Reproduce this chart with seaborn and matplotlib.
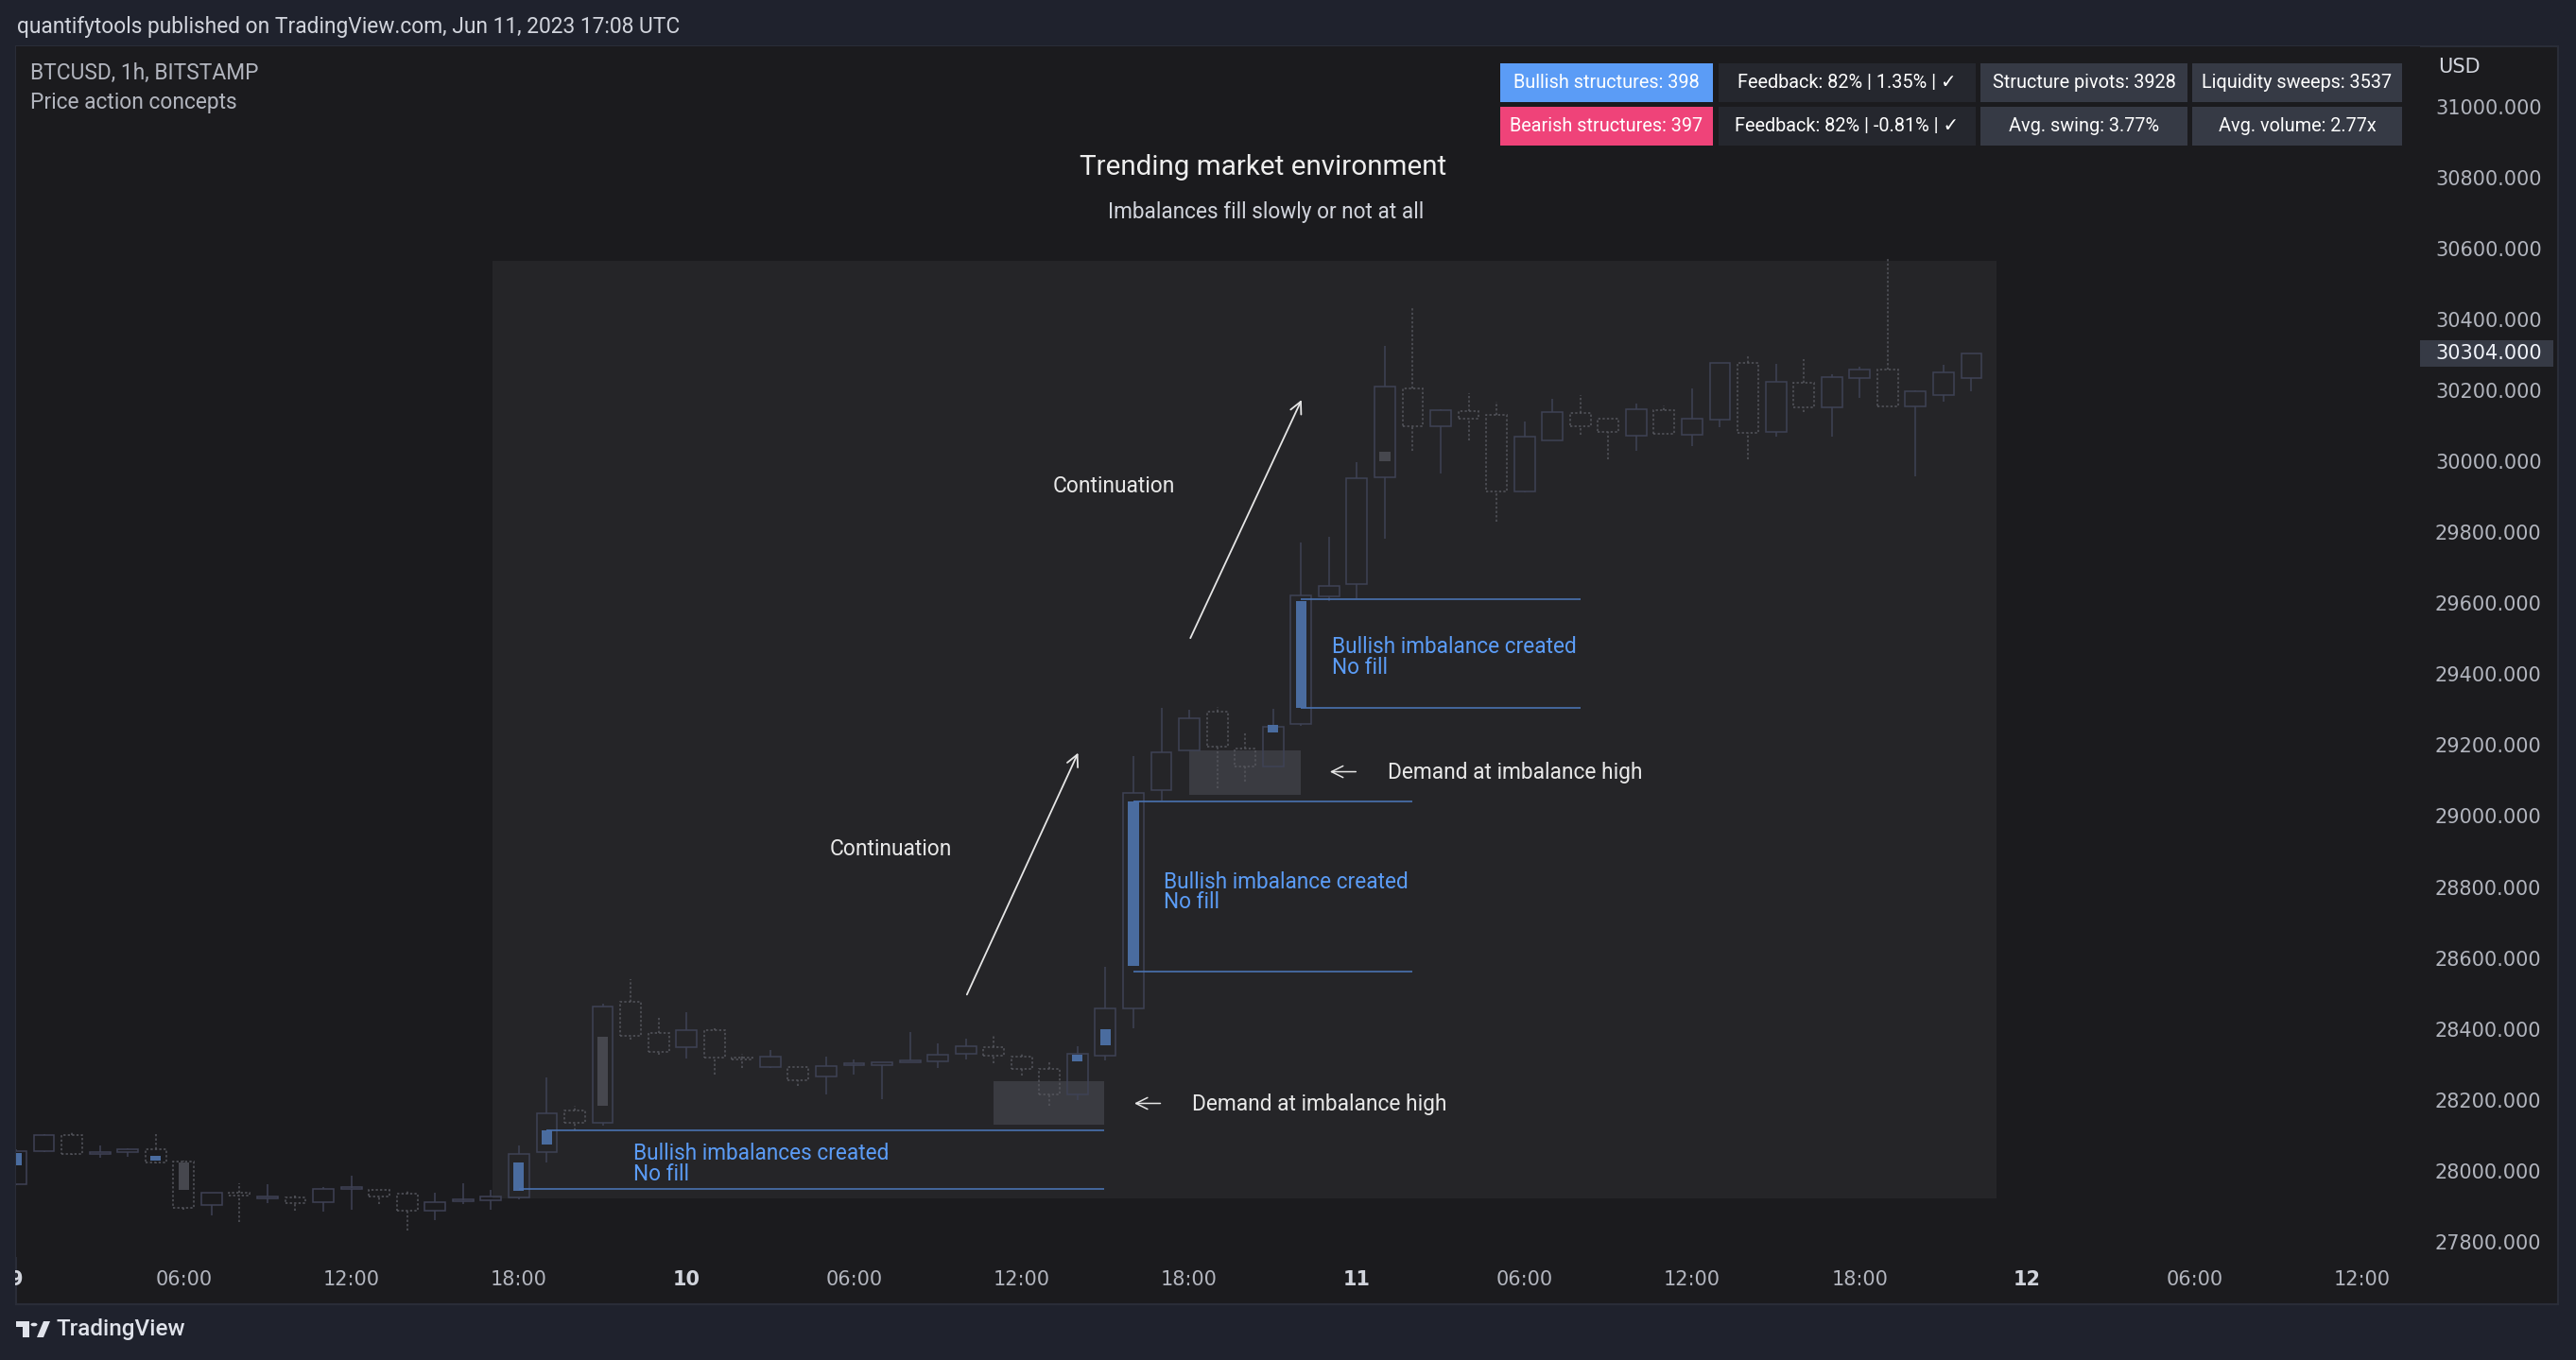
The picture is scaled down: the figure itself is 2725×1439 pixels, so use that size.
import matplotlib
matplotlib.use('Agg')
import numpy as np
import pandas as pd
import matplotlib.pyplot as plt
import seaborn as sns
from matplotlib.patches import Rectangle, Polygon, Circle
from matplotlib.transforms import blended_transform_factory

# BTCUSD 1h candles, hour 0 = 9 Jun 2023 00:00 UTC
hours = np.arange(71)
opens = [27962, 28056, 28102, 28048, 28053, 28062, 28027, 27904, 27938, 27922,
         27925, 27912, 27948, 27946, 27936, 27888, 27915, 27917, 27925, 28053,
         28170, 28135, 28477, 28389, 28348, 28397, 28317, 28293, 28293, 28266,
         28297, 28298, 28306, 28309, 28330, 28349, 28322, 28288, 28215, 28325,
         28457, 29074, 29184, 29294, 29190, 29141, 29260, 29620, 29655, 29955,
         30205, 30098, 30141, 30131, 29915, 30060, 30136, 30120, 30072, 30144,
         30074, 30117, 30277, 30083, 30221, 30151, 30234, 30258, 30154, 30188,
         30236]
highs = [28060, 28104, 28109, 28071, 28063, 28104, 28029, 27939, 27964, 27961,
         27931, 27953, 27987, 27946, 27945, 27937, 27966, 27945, 28072, 28264,
         28182, 28470, 28540, 28435, 28446, 28402, 28329, 28341, 28293, 28322,
         28313, 28306, 28392, 28360, 28373, 28382, 28331, 28307, 28351, 28574,
         29169, 29304, 29300, 29307, 29235, 29303, 29772, 29787, 29997, 30326,
         30435, 30148, 30193, 30169, 30113, 30177, 30187, 30120, 30163, 30158,
         30206, 30277, 30299, 30275, 30289, 30246, 30268, 30574, 30201, 30271,
         30304]
lows = [27960, 28054, 28045, 28038, 28040, 28022, 27890, 27874, 27855, 27909,
        27887, 27885, 27891, 27906, 27831, 27860, 27905, 27891, 27920, 28024,
        28115, 28128, 28370, 28326, 28316, 28270, 28291, 28291, 28238, 28215,
        28270, 28202, 28306, 28291, 28313, 28304, 28269, 28183, 28200, 28310,
        28401, 29045, 29184, 29078, 29098, 29141, 29255, 29607, 29615, 29781,
        30031, 29965, 30060, 29829, 29912, 30060, 30074, 30005, 30031, 30077,
        30042, 30095, 30007, 30069, 30139, 30069, 30179, 30154, 29958, 30167,
        30197]
closes = [28056, 28102, 28047, 28052, 28062, 28024, 27895, 27938, 27930, 27928,
          27909, 27949, 27952, 27928, 27888, 27912, 27918, 27928, 28048, 28162,
          28135, 28463, 28381, 28335, 28397, 28319, 28313, 28322, 28255, 28295,
          28303, 28306, 28312, 28328, 28352, 28325, 28287, 28215, 28330, 28458,
          29065, 29180, 29275, 29195, 29141, 29251, 29621, 29648, 29953, 30210,
          30098, 30145, 30119, 29915, 30069, 30139, 30098, 30084, 30147, 30077,
          30120, 30277, 30079, 30224, 30151, 30237, 30258, 30154, 30197, 30250,
          30304]

# imbalance markers inside candles
mark_hours = [0, 5, 6, 18, 19, 21, 38, 39, 40, 45, 46, 49]
mark_top = [28051, 28042, 28024, 28024, 28113, 28378, 28326, 28399, 29041, 29256, 29605, 30028]
mark_bottom = [28016, 28029, 27945, 27944, 28075, 28183, 28309, 28353, 28577, 29237, 29305, 30000]
mark_kind = ['bull', 'bull', 'gray', 'bull', 'bull', 'gray', 'bull', 'bull', 'bull', 'bull', 'bull', 'gray']

# bullish imbalance levels
imb_top = [28115, 29042, 29611]
imb_bottom = [27949, 28561, 29305]
imb_top_start = [19, 40, 46]
imb_bottom_start = [18, 40, 46]
imb_end = [38.96, 50.0, 56.0]
imb_labels = ['Bullish imbalances created\nNo fill', 'Bullish imbalance created\nNo fill',
              'Bullish imbalance created\nNo fill']

# demand zones
dz_start = [35.0, 42.0]
dz_end = [38.96, 46.0]
dz_top = [28252, 29185]
dz_bottom = [28129, 29060]

# shaded study window
win_start, win_end = 17.05, 70.9
win_low, win_high = 27921, 30566

tick_hours = list(range(0, 85, 6))
tick_labels = ['9', '06:00', '12:00', '18:00', '10', '06:00', '12:00', '18:00',
               '11', '06:00', '12:00', '18:00', '12', '06:00', '12:00']
price_ticks = list(range(27800, 31001, 200))

table_rows = [
    ['Bullish structures: 398', 'Feedback: 82% | 1.35% | ✓', 'Structure pivots: 3928', 'Liquidity sweeps: 3537'],
    ['Bearish structures: 397', 'Feedback: 82% | -0.81% | ✓', 'Avg. swing: 3.77%', 'Avg. volume: 2.77x'],
]

OUTER = '#1f222d'
PANEL = '#1b1b1e'
SHADE = '#252528'
TXT = '#d1d4dc'
AXTXT = '#b2b5be'
BLUE = '#5b9cf6'
LINEBLUE = '#4a72b0'

W, H = 2725, 1439

sns.set_theme(style='dark', rc={'figure.facecolor': OUTER, 'axes.facecolor': PANEL,
                                'savefig.facecolor': OUTER})
plt.rcParams['font.family'] = ['Roboto', 'DejaVu Sans']

fig = plt.figure(figsize=(W / 100, H / 100), dpi=100)


def fx(x):
    return x / W


def fy(y):
    return 1 - y / H


# chart panel
fig.add_artist(Rectangle((fx(17), fy(1380)), fx(2706 - 17), (1380 - 49) / H,
                         transform=fig.transFigure, fc=PANEL, ec='#2a2d38', lw=1.5, zorder=0))

ax = fig.add_axes([fx(17), fy(1330), fx(2560 - 17), (1330 - 49) / H])
ax.set_facecolor(PANEL)
ax.set_xlim(0, 86.06)
ax.set_ylim(27757, 31170)
sns.despine(ax=ax, left=True, bottom=True, right=True, top=True)
ax.grid(False)

df = pd.DataFrame({'hour': hours, 'open': opens, 'high': highs, 'low': lows, 'close': closes})

ax.add_patch(Rectangle((win_start, win_low), win_end - win_start, win_high - win_low,
                       fc=SHADE, ec='none', zorder=1))

for s, e, t, b in zip(dz_start, dz_end, dz_top, dz_bottom):
    ax.add_patch(Rectangle((s, b), e - s, t - b, fc='#3a3b41', ec='none', zorder=2))

bw = 0.74
for r in df.itertuples():
    bull = r.close >= r.open
    col = '#3f4255' if bull else '#55565d'
    ls = '-' if bull else (0, (1.5, 1.5))
    top, bot = max(r.open, r.close), min(r.open, r.close)
    ax.vlines(r.hour, top, r.high, color=col, lw=1.1, ls=ls, zorder=3)
    ax.vlines(r.hour, r.low, bot, color=col, lw=1.1, ls=ls, zorder=3)
    ax.add_patch(Rectangle((r.hour - bw / 2, bot), bw, max(top - bot, 5),
                           fill=False, ec=col, lw=1.1, ls=ls, zorder=3))

for h, t, b, k in zip(mark_hours, mark_top, mark_bottom, mark_kind):
    c = '#4a6c9f' if k == 'bull' else '#46474e'
    ax.add_patch(Rectangle((h - 0.19, b), 0.38, t - b, fc=c, ec='none', zorder=4))

for i in range(len(imb_top)):
    ax.hlines(imb_top[i], imb_top_start[i], imb_end[i], color=LINEBLUE, lw=1.2, zorder=4)
    ax.hlines(imb_bottom[i], imb_bottom_start[i], imb_end[i], color=LINEBLUE, lw=1.2, zorder=4)

# annotations
lab_kw = dict(color=BLUE, fontsize=16.3, va='center', linespacing=0.92, zorder=5)
ax.text(22.1, 28020, imb_labels[0], **lab_kw)
ax.text(41.1, 28785, imb_labels[1], **lab_kw)
ax.text(47.1, 29447, imb_labels[2], **lab_kw)

ax.text(44.65, 30830, 'Trending market environment', color='#eeeeee', fontsize=21.3, ha='center', va='center')
ax.text(44.76, 30702, 'Imbalances fill slowly or not at all', color=TXT, fontsize=16.3, ha='center', va='center')

note = dict(color='#e8e8e8', fontsize=16.4, va='center')
ax.text(31.3, 28907, 'Continuation', ha='center', **note)
ax.text(39.3, 29930, 'Continuation', ha='center', **note)
ax.text(49.1, 29122, 'Demand at imbalance high', **note)
ax.text(42.1, 28187, 'Demand at imbalance high', **note)

arrow = dict(arrowstyle='->', color='#e6e6e6', lw=1.3, mutation_scale=22)
ax.annotate('', xy=(38.06, 29185), xytext=(34.0, 28490), arrowprops=arrow)
ax.annotate('', xy=(46.06, 30180), xytext=(42.0, 29495), arrowprops=arrow)
small = dict(arrowstyle='->', color='#e6e6e6', lw=1.1, mutation_scale=22)
ax.annotate('', xy=(46.94, 29125), xytext=(48.06, 29125), arrowprops=small)
ax.annotate('', xy=(39.94, 28190), xytext=(41.06, 28190), arrowprops=small)

# axes ticks
ax.set_xticks(tick_hours)
ax.set_xticklabels(tick_labels)
ax.yaxis.tick_right()
ax.set_yticks(price_ticks)
ax.set_yticklabels([f'{v:.3f}' for v in price_ticks])
ax.tick_params(axis='both', length=0, colors=AXTXT, labelsize=15)
ax.tick_params(axis='x', pad=10)
ax.tick_params(axis='y', pad=11.5)
for lab in ax.get_xticklabels() + ax.get_yticklabels():
    lab.set_fontfamily('DejaVu Sans')
for lab in ax.get_xticklabels():
    if lab.get_text() in ('9', '10', '11', '12'):
        lab.set_fontweight('bold')
        lab.set_color('#d1d4dc')

# last price tag
last = closes[-1]
bt = blended_transform_factory(ax.transAxes, ax.transData)
ax.add_patch(Rectangle((1.0, last - 38), 141 / 2543, 76, transform=bt, fc='#363a45', ec='none',
                       clip_on=False, zorder=5))
ax.text(1.0 + 16 / 2543, last, f'{last:.3f}', transform=bt, color='#f0f3fa', fontsize=15,
        family='DejaVu Sans', va='center', ha='left', zorder=6, clip_on=False)

# cover left of panel (clips the cut "9" label)
fig.add_artist(Rectangle((0, fy(1439)), fx(16), 1, transform=fig.transFigure, fc=OUTER, ec='none', zorder=10))

# header and footer texts
fig.text(fx(18), fy(29), 'quantifytools published on TradingView.com, Jun 11, 2023 17:08 UTC',
         color=TXT, fontsize=16.4, va='center')
fig.text(fx(32), fy(77), 'BTCUSD, 1h, BITSTAMP', color=AXTXT, fontsize=16.4, va='center')
fig.text(fx(32), fy(108), 'Price action concepts', color=AXTXT, fontsize=16.4, va='center')
fig.text(fx(2579), fy(71), 'USD', color=TXT, fontsize=15, va='center', family='DejaVu Sans')

fig.text(fx(60), fy(1407), 'TradingView', color='#e0e3eb', fontsize=17.5, va='center', fontweight='medium')
fig.add_artist(Polygon([(fx(17), fy(1398)), (fx(31), fy(1398)), (fx(31), fy(1415)), (fx(24), fy(1415)),
                        (fx(24), fy(1404)), (fx(17), fy(1404))], closed=True,
                       transform=fig.transFigure, fc='#e0e3eb', ec='none', zorder=11))
fig.add_artist(Circle((fx(36), fy(1401.5)), 3.5 / W, transform=fig.transFigure, fc='#e0e3eb', ec='none', zorder=11))
fig.add_artist(Polygon([(fx(39), fy(1415)), (fx(46), fy(1398)), (fx(53), fy(1398)), (fx(46), fy(1415))],
                       closed=True, transform=fig.transFigure, fc='#e0e3eb', ec='none', zorder=11))

# stats table
col_x = [(1587, 1812), (1818, 2090), (2095, 2314), (2319, 2541)]
row_y = [(67, 108), (113, 154)]
cell_colors = [[BLUE, '#25272e', '#363a45', '#363a45'],
               ['#ef4379', '#25272e', '#363a45', '#363a45']]
for ri, (y0, y1) in enumerate(row_y):
    for ci, (x0, x1) in enumerate(col_x):
        fig.add_artist(Rectangle((fx(x0), fy(y1)), fx(x1 - x0), (y1 - y0) / H, transform=fig.transFigure,
                                 fc=cell_colors[ri][ci], ec='none', zorder=5))
        fig.text(fx((x0 + x1) / 2), fy((y0 + y1) / 2), table_rows[ri][ci], color='#ffffff',
                 fontsize=14.3, ha='center', va='center', zorder=6)

fig.savefig('out.png', dpi=100)
